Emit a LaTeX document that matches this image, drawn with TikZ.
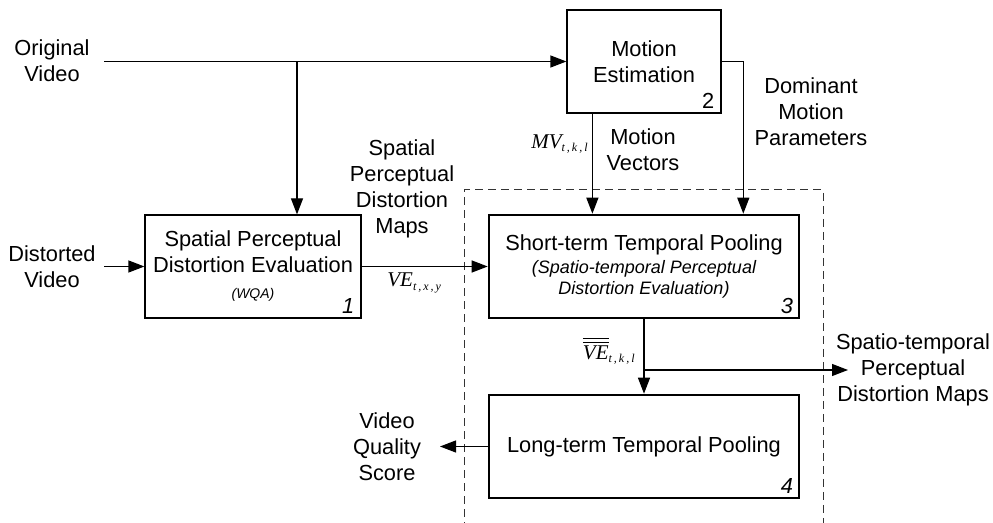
\documentclass[tikz,border=0pt]{standalone}
\usepackage{fontspec}
\setmainfont{Liberation Sans}
\newfontfamily\tms{Liberation Serif}
\usetikzlibrary{arrows.meta}

\begin{document}
\begin{tikzpicture}[
        x=0.5pt, y=-0.5pt,
        font=\fontsize{10.9}{13}\selectfont,
        block/.style={rectangle, draw, line width=0.6pt, minimum width=108pt, minimum height=51.5pt, align=center, inner sep=0pt},
        pool/.style={block, line width=1.3pt, minimum width=155pt},
        lbl/.style={align=center, inner sep=0pt},
        num/.style={anchor=south east, inner xsep=3.5pt, inner ysep=2.5pt},
        sig/.style={inner sep=0pt, font=\fontsize{10.5}{12}\tms\itshape},
        arrow/.style={-{Triangle[length=8pt, width=6pt]}, line width=0.6pt}
    ]
        \useasboundingbox (0,0) rectangle (993,523);

        % Processing blocks
        \node[block] (spatial) at (253, 266.5) {Spatial Perceptual\\Distortion Evaluation\\[0pt]{\fontsize{7}{8}\selectfont\itshape (WQA)}};
        \node[block, minimum width=77pt] (motion) at (644, 61.5) {Motion\\Estimation};
        \node[pool] (short) at (644, 266.5) {Short-term Temporal Pooling\\[-1.5pt]{\fontsize{9}{10}\selectfont\itshape (Spatio-temporal Perceptual}\\[-2.5pt]{\fontsize{9}{10}\selectfont\itshape Distortion Evaluation)}};
        \node[pool] (long) at (644, 446.5) {Long-term Temporal Pooling};

        % Block numbers
        \node[num] at (spatial.south east) {\itshape 1};
        \node[num] at (motion.south east) {2};
        \node[num] at (short.south east) {\itshape 3};
        \node[num] at (long.south east) {\itshape 4};

        % Inputs and outputs
        \node[lbl] (orig) at (52, 60.5) {Original\\Video};
        \node[lbl] (dist) at (52, 266.5) {Distorted\\Video};
        \node[lbl] (vqs) at (387, 447) {Video\\Quality\\Score};
        \node[lbl] (stmaps) at (913, 370) {Spatio-temporal\\Perceptual\\Distortion Maps};
        \coordinate (origsrc) at (104, 61.5);
        \coordinate (distsrc) at (104, 266.5);
        \coordinate (split) at (297, 61.5);
        \coordinate (fork) at (644, 370);
        \coordinate (stout) at (848, 370);
        \coordinate (vqout) at (440, 446.5);

        % Signal labels
        \node[lbl] (spmaps) at (402, 188.5) {Spatial\\Perceptual\\Distortion\\Maps};
        \node[lbl] (mvec) at (643, 150) {Motion\\Vectors};
        \node[lbl] (dmp) at (811, 112) {Dominant\\Motion\\Parameters};
        \node[sig, anchor=west] (ve) at (387, 283) {VE\textsubscript{\fontsize{6}{7}\selectfont t\,,\,x\,,\,y}};
        \node[sig, anchor=east] (mv) at (589, 144) {MV\textsubscript{\fontsize{6}{7}\selectfont t\,,\,k\,,\,l}};
        \node[sig, anchor=east] (vebar) at (636, 351) {$\overline{\overline{\hbox{VE}}}$\textsubscript{\fontsize{6}{7}\selectfont t\,,\,k\,,\,l}};

        % Pooling stage frame
        \draw[dash pattern=on 4pt off 2.5pt, line width=0.5pt, black!80] (464, 530) |- (823, 190) -- (823, 530);

        % Arrows
        \draw[line width=0.6pt] (origsrc) -- (split);
        \draw[arrow] (split) -- (motion.west);
        \draw[arrow] (split) -- (split |- spatial.north);
        \draw[arrow] (distsrc) -- (spatial.west);
        \draw[arrow] (spatial.east) -- (short.west);
        \draw[arrow] ([xshift=13pt]motion.south west) -- ([xshift=13pt]motion.south west |- short.north);
        \draw[arrow] (motion.east) -| ([xshift=-28.5pt]short.north east);
        \draw[line width=0.6pt] (short.south) -- (fork);
        \draw[arrow] (fork) -- (long.north);
        \draw[arrow] (fork) -- (stout);
        \draw[arrow] (long.west) -- (vqout);

    \end{tikzpicture}
\end{document}
